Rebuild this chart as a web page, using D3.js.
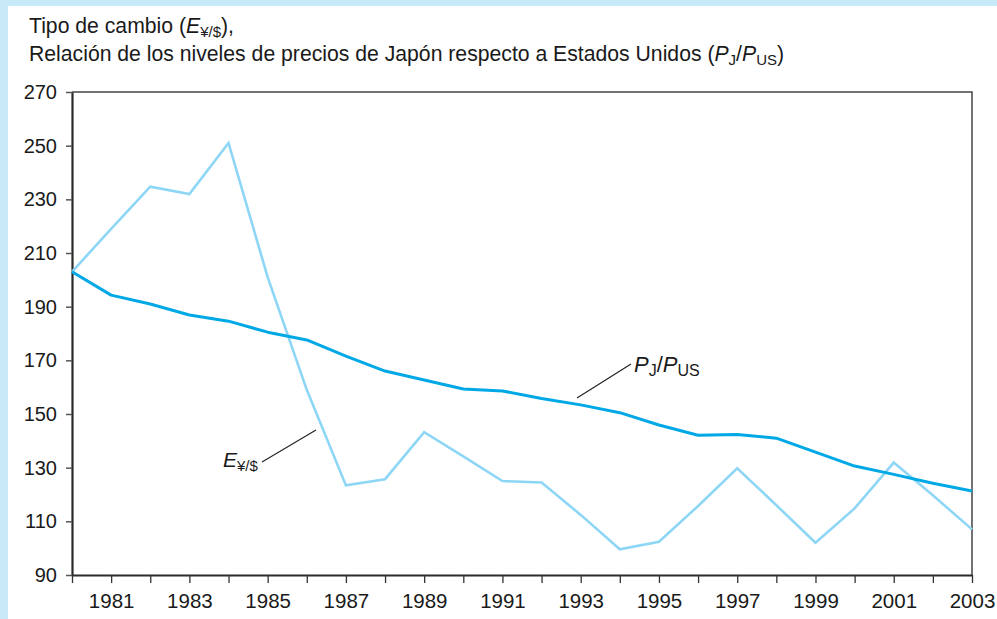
<!DOCTYPE html>
<html>
<head>
<meta charset="utf-8">
<script src="https://cdn.jsdelivr.net/npm/d3@7"></script>
<style>
  html, body { margin: 0; padding: 0; background: #ffffff; }
  svg { display: block; font-family: "Liberation Sans", Arial, Helvetica, sans-serif; }
</style>
</head>
<body>
<svg id="chart" width="997" height="619"></svg>
<script>
// Years on the horizontal axis
const years = d3.range(1980, 2004);

// Yen/dollar exchange rate, E¥/$
const exchangeRate = [203, 219, 234.7, 232, 251, 201, 159, 123.4, 125.7, 143.2, 134.2, 125,
  124.5, 112.4, 99.6, 102.4, 115.7, 129.8, 116, 102, 114.8, 131.9, 119.7, 107];

// Japan / US price level ratio, PJ/PUS
const priceRatio = [203, 194.3, 191, 186.9, 184.6, 180.5, 177.6, 171.6, 166, 162.7, 159.3, 158.6,
  155.8, 153.4, 150.5, 145.9, 142.1, 142.4, 141, 135.8, 130.6, 127.5, 124.2, 121.3];

const yTicks = [90, 110, 130, 150, 170, 190, 210, 230, 250, 270];
const xLabelYears = d3.range(1981, 2004, 2);

const svg = d3.select("#chart");
const W = 997, H = 619;
const m = { left: 72, right: 25, top: 92, bottom: 44 };
const FONT = "'Liberation Sans', Arial, sans-serif";

// light blue page frame on the left and top edges
svg.append("rect").attr("x", 0).attr("y", 0).attr("width", W).attr("height", H).attr("fill", "#c8e9f8");
svg.append("rect").attr("x", 8).attr("y", 6).attr("width", W - 8).attr("height", H - 6).attr("fill", "#ffffff");

const x = d3.scaleLinear().domain([1980, 2003]).range([m.left, W - m.right]);
const y = d3.scaleLinear().domain([90, 270]).range([H - m.bottom, m.top]);

// top and right border of the plot
svg.append("path")
  .attr("d", `M${x(1980)},${y(270)}H${x(2003)}V${y(90)}`)
  .attr("fill", "none").attr("stroke", "#444").attr("stroke-width", 1.5);

// y axis
const yAxis = svg.append("g")
  .attr("transform", `translate(${m.left},0)`)
  .call(d3.axisLeft(y).tickValues(yTicks).tickSize(6).tickPadding(9).tickSizeOuter(0));
yAxis.select(".domain").attr("stroke", "#2b2b2b").attr("stroke-width", 2.2);
yAxis.selectAll(".tick line").attr("stroke", "#555").attr("stroke-width", 1.5);
yAxis.selectAll(".tick text").attr("font-size", 20).attr("fill", "#1a1a1a").attr("font-family", FONT);

// x axis: a tick every year, labels on odd years
const xAxis = svg.append("g")
  .attr("transform", `translate(0,${y(90)})`)
  .call(d3.axisBottom(x).tickValues(years).tickSize(8).tickPadding(10).tickSizeOuter(0)
    .tickFormat(d => xLabelYears.includes(d) ? String(d) : ""));
xAxis.select(".domain").attr("stroke", "#2b2b2b").attr("stroke-width", 2.2);
xAxis.selectAll(".tick line").attr("stroke", "#333").attr("stroke-width", 1.3);
xAxis.selectAll(".tick text").attr("font-size", 20.5).attr("fill", "#1a1a1a").attr("font-family", FONT);

const line = d3.line().x((d, i) => x(years[i])).y(d => y(d));

svg.append("path").datum(exchangeRate)
  .attr("d", line).attr("fill", "none")
  .attr("stroke", "#8ed6f6").attr("stroke-width", 2.6).attr("stroke-linejoin", "miter");

svg.append("path").datum(priceRatio)
  .attr("d", line).attr("fill", "none")
  .attr("stroke", "#00a8e6").attr("stroke-width", 3).attr("stroke-linejoin", "round");

// callout leaders
svg.append("line").attr("x1", 577).attr("y1", 398).attr("x2", 631).attr("y2", 364)
  .attr("stroke", "#222").attr("stroke-width", 1.2);
svg.append("line").attr("x1", 262).attr("y1", 462).attr("x2", 316).attr("y2", 430)
  .attr("stroke", "#222").attr("stroke-width", 1.2);

// series labels
const pLabel = svg.append("text").attr("x", 634).attr("y", 372).attr("font-size", 22).attr("fill", "#1a1a1a");
pLabel.append("tspan").attr("font-style", "italic").text("P");
pLabel.append("tspan").attr("font-size", 16).attr("dy", 4).text("J");
pLabel.append("tspan").attr("dy", -4).text("/");
pLabel.append("tspan").attr("font-style", "italic").text("P");
pLabel.append("tspan").attr("font-size", 16).attr("dy", 4).text("US");

const eLabel = svg.append("text").attr("x", 223).attr("y", 467).attr("font-size", 21).attr("fill", "#1a1a1a");
eLabel.append("tspan").attr("font-style", "italic").text("E");
eLabel.append("tspan").attr("font-size", 15).attr("dy", 4).text("¥/$");

// two-line heading
const t1 = svg.append("text").attr("x", 29).attr("y", 33).attr("font-size", 21.2).attr("fill", "#1a1a1a");
t1.append("tspan").text("Tipo de cambio (");
t1.append("tspan").attr("font-style", "italic").text("E");
t1.append("tspan").attr("font-size", 15).attr("dy", 4).text("¥/$");
t1.append("tspan").attr("dy", -4).text("),");

const t2 = svg.append("text").attr("x", 29).attr("y", 61).attr("font-size", 21.2).attr("fill", "#1a1a1a");
t2.append("tspan").text("Relación de los niveles de precios de Japón respecto a Estados Unidos (");
t2.append("tspan").attr("font-style", "italic").text("P");
t2.append("tspan").attr("font-size", 15).attr("dy", 4).text("J");
t2.append("tspan").attr("dy", -4).text("/");
t2.append("tspan").attr("font-style", "italic").text("P");
t2.append("tspan").attr("font-size", 15).attr("dy", 4).text("US");
t2.append("tspan").attr("dy", -4).text(")");
</script>
</body>
</html>
